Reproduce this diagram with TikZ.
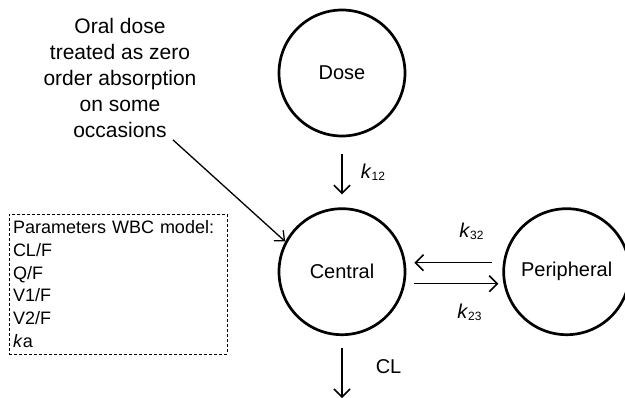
\documentclass[tikz,border=0pt]{standalone}
\usepackage{fontspec}
\setmainfont{Liberation Sans}
\usetikzlibrary{arrows.meta, positioning}

\begin{document}
\begin{tikzpicture}[
    x=1pt, y=1pt,
    node distance=70pt and 96pt,
    compartment/.style={circle, draw, line width=2.7pt, minimum size=126pt, inner sep=0pt, font=\fontsize{20}{24}\selectfont},
    arrow/.style={-{Straight Barb[length=8pt, width=16pt]}, line width=1.6pt},
    rate/.style={font=\fontsize{20}{24}\selectfont, inner sep=0pt},
    note/.style={align=center, inner sep=0pt, font=\fontsize{21}{26}\selectfont},
    parbox/.style={draw, dashed, dash pattern=on 3pt off 2pt, line width=0.8pt, align=left, text width=210pt, minimum height=140pt, inner sep=4pt, font=\fontsize{18}{22.8}\selectfont}
]
\useasboundingbox (0,0) rectangle (625,-398);

% Compartments
\node[compartment] (dose) at (342,-73) {Dose};
\node[compartment, below=of dose] (central) {Central};
\node[compartment, right=of central] (periph) {Peripheral};

% Notes
\node[note] (oral) at (120,-78) {Oral dose\\treated as zero\\order absorption\\on some\\occasions};
\node[parbox] (params) at (118,-284) {Parameters WBC model:\\CL/F\\Q/F\\V1/F\\V2/F\\\textit{k}a};

% Elimination end point
\coordinate[below=62pt of central.south] (sink);

% Arrows between compartments
\draw[arrow, shorten <=17pt, shorten >=13pt] (dose) -- (central)
    node[rate, midway, right=18pt] (k12) {\textit{k}\raisebox{-2pt}{\fontsize{12}{12}\selectfont 12}};
\draw[arrow, shorten <=10pt, shorten >=8pt] ([yshift=9pt]periph.west) -- ([yshift=9pt]central.east)
    node[rate, midway, above=22pt, xshift=17pt] (k32) {\textit{k}\raisebox{-2pt}{\fontsize{12}{12}\selectfont 32}};
\draw[arrow, shorten <=8pt, shorten >=4pt] ([yshift=-12pt]central.east) -- ([yshift=-12pt]periph.west)
    node[rate, midway, below=20pt, xshift=15pt] (k23) {\textit{k}\raisebox{-2pt}{\fontsize{12}{12}\selectfont 23}};
\draw[arrow, shorten <=12pt] (central.south) -- (sink)
    node[rate, midway, right=33pt] (cl) {CL};

% Oral dose arrow
\draw[arrow, line width=1.3pt, -{Straight Barb[length=8pt, width=14pt]}] ([xshift=53pt,yshift=-2pt]oral.south) -- (central.152);

\end{tikzpicture}
\end{document}
